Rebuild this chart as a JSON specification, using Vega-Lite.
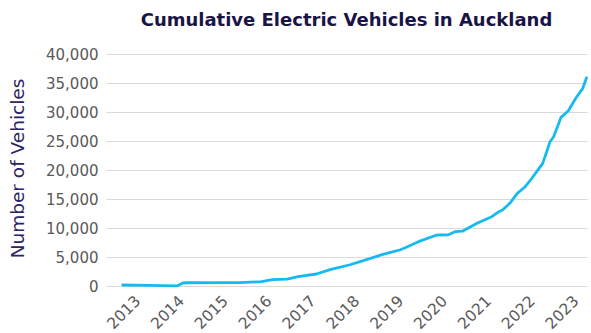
{
  "$schema": "https://vega.github.io/schema/vega-lite/v6.json",
  "autosize": "none",
  "width": 481,
  "height": 232,
  "padding": {"left": 106, "top": 54, "right": 4, "bottom": 47},
  "background": "white",
  "title": {
    "text": "Cumulative Electric Vehicles in Auckland",
    "font": "DejaVu Sans",
    "fontSize": 18,
    "fontWeight": "bold",
    "color": "#1a1446",
    "anchor": "middle",
    "baseline": "alphabetic",
    "offset": 3
  },
  "config": {
    "view": {"stroke": null},
    "axis": {
      "labelFont": "DejaVu Sans",
      "labelFontSize": 15,
      "labelColor": "#595959",
      "titleFont": "DejaVu Sans",
      "gridColor": "#d9d9d9",
      "gridWidth": 1,
      "domain": false,
      "ticks": false
    }
  },
  "data": {
    "values": [
      {"date": "2012-09-01", "vehicles": 170},
      {"date": "2013-04-01", "vehicles": 100},
      {"date": "2013-12-01", "vehicles": 30},
      {"date": "2014-01-15", "vehicles": 520},
      {"date": "2014-02-15", "vehicles": 560},
      {"date": "2015-05-01", "vehicles": 570},
      {"date": "2015-11-01", "vehicles": 740},
      {"date": "2016-02-01", "vehicles": 1100},
      {"date": "2016-06-01", "vehicles": 1170},
      {"date": "2016-09-01", "vehicles": 1600},
      {"date": "2017-02-01", "vehicles": 2070},
      {"date": "2017-06-01", "vehicles": 2880},
      {"date": "2017-11-01", "vehicles": 3620},
      {"date": "2018-04-01", "vehicles": 4600},
      {"date": "2018-08-01", "vehicles": 5400},
      {"date": "2019-01-01", "vehicles": 6250},
      {"date": "2019-02-01", "vehicles": 6500},
      {"date": "2019-06-01", "vehicles": 7640},
      {"date": "2019-11-01", "vehicles": 8790},
      {"date": "2020-02-01", "vehicles": 8800},
      {"date": "2020-04-01", "vehicles": 9360},
      {"date": "2020-06-01", "vehicles": 9450},
      {"date": "2020-10-01", "vehicles": 10810},
      {"date": "2021-02-01", "vehicles": 11950},
      {"date": "2021-04-01", "vehicles": 12810},
      {"date": "2021-05-01", "vehicles": 13100},
      {"date": "2021-07-01", "vehicles": 14260},
      {"date": "2021-09-01", "vehicles": 15980},
      {"date": "2021-11-01", "vehicles": 17020},
      {"date": "2022-01-01", "vehicles": 18570},
      {"date": "2022-04-01", "vehicles": 21150},
      {"date": "2022-06-01", "vehicles": 24880},
      {"date": "2022-07-01", "vehicles": 25740},
      {"date": "2022-09-01", "vehicles": 29080},
      {"date": "2022-11-01", "vehicles": 30220},
      {"date": "2023-01-01", "vehicles": 32360},
      {"date": "2023-03-01", "vehicles": 34080},
      {"date": "2023-04-01", "vehicles": 35900}
    ]
  },
  "mark": {"type": "line", "color": "#17baf0", "strokeWidth": 2.8, "strokeJoin": "round", "strokeCap": "round"},
  "encoding": {
    "x": {
      "field": "date",
      "type": "temporal",
      "scale": {"domain": ["2012-04-15", "2023-04-05"]},
      "axis": {
        "title": null,
        "grid": false,
        "format": "%Y",
        "values": ["2013-01-01", "2014-01-01", "2015-01-01", "2016-01-01", "2017-01-01", "2018-01-01", "2019-01-01", "2020-01-01", "2021-01-01", "2022-01-01", "2023-01-01"],
        "labelAngle": -45,
        "labelAlign": "right",
        "labelBaseline": "middle",
        "labelPadding": 12,
        "labelFontSize": 15.5
      }
    },
    "y": {
      "field": "vehicles",
      "type": "quantitative",
      "scale": {"domain": [0, 40000], "nice": false},
      "axis": {
        "title": "Number of Vehicles",
        "values": [0, 5000, 10000, 15000, 20000, 25000, 30000, 35000, 40000],
        "format": ",.0f",
        "labelPadding": 8,
        "titleFontSize": 18.5,
        "titleFontWeight": "normal",
        "titleColor": "#2b2462",
        "titleX": -89,
        "titleY": 114,
        "titleAngle": -90,
        "titleAlign": "center",
        "titleBaseline": "middle"
      }
    }
  }
}
